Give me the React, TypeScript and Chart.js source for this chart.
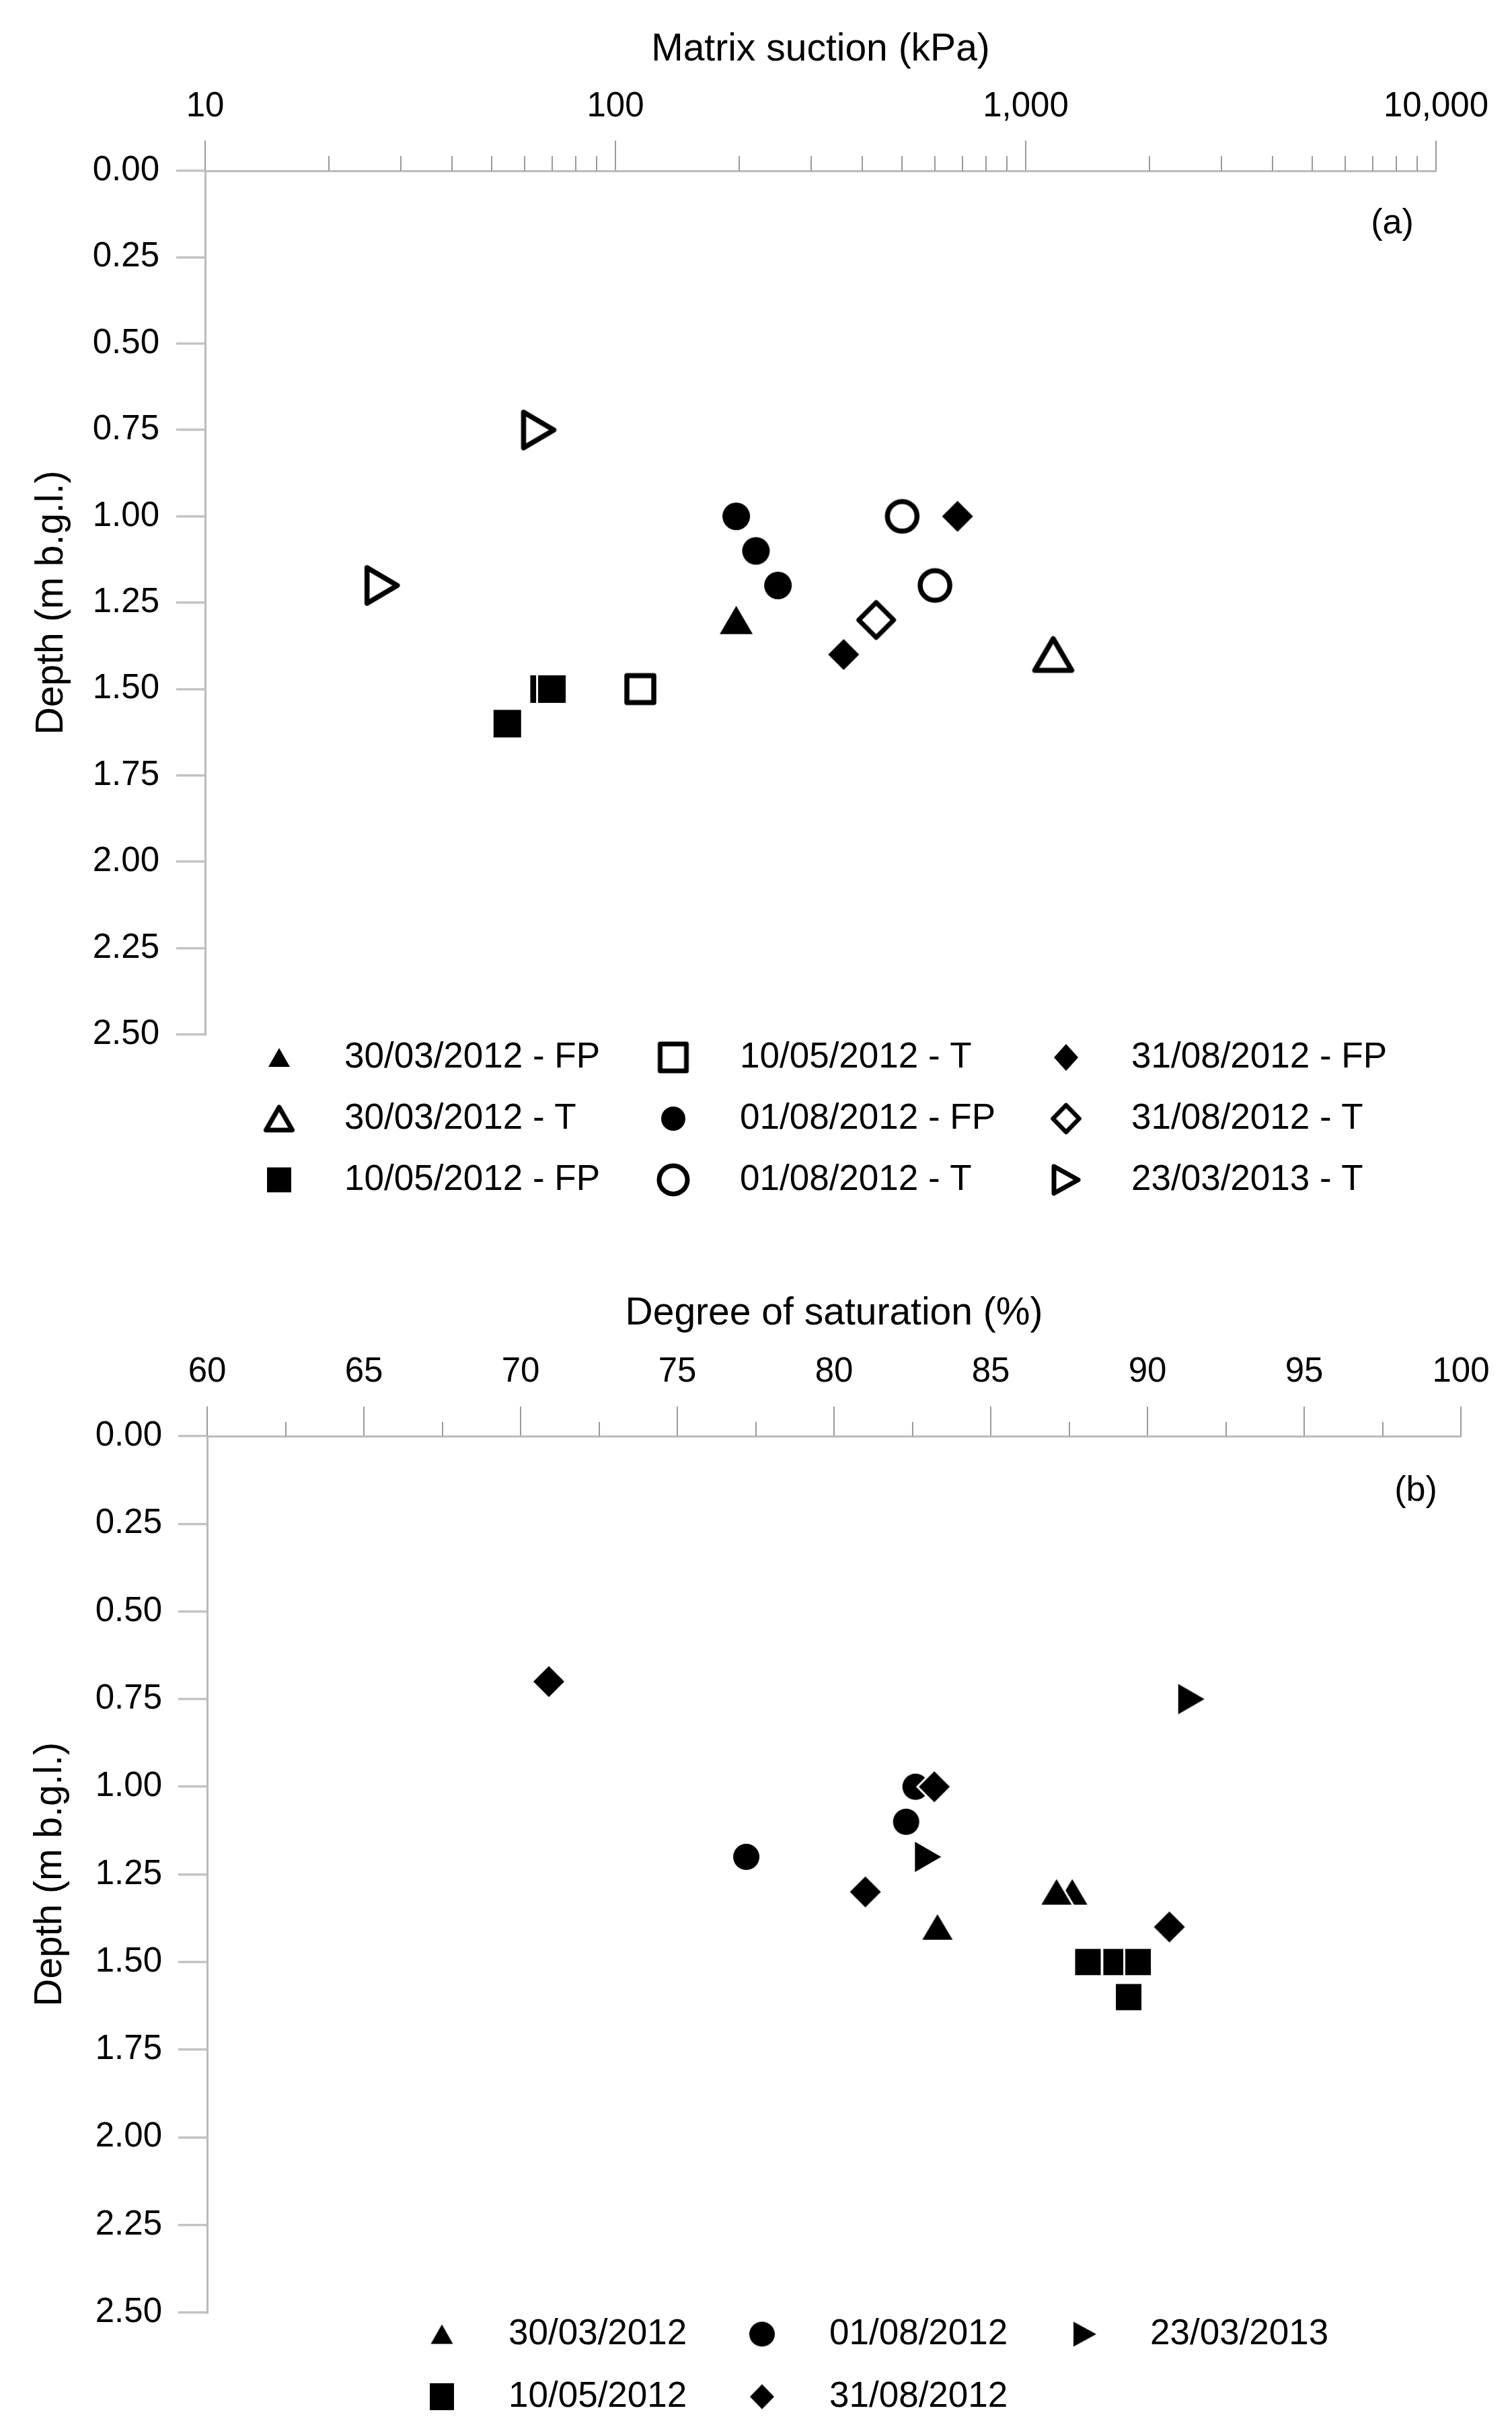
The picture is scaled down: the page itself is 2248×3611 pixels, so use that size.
import React, { useEffect, useRef } from 'react';
import { Chart, registerables } from 'chart.js';

Chart.register(...registerables);

const FONT = "'Liberation Sans', Arial, Helvetica, sans-serif";

// ---------------- Panel (a): matrix suction ----------------
const SUCTION_TICKS = [10, 100, 1000, 10000];
const SUCTION_TICK_LABELS = ['10', '100', '1,000', '10,000'];
const SUCTION_MINOR_TICKS = [
  20, 30, 40, 50, 60, 70, 80, 90,
  200, 300, 400, 500, 600, 700, 800, 900,
  2000, 3000, 4000, 5000, 6000, 7000, 8000, 9000,
];

const DEPTH_TICKS = [0, 0.25, 0.5, 0.75, 1, 1.25, 1.5, 1.75, 2, 2.25, 2.5];
const DEPTH_TICK_LABELS = ['0.00', '0.25', '0.50', '0.75', '1.00', '1.25', '1.50', '1.75', '2.00', '2.25', '2.50'];

// [suction (kPa), depth (m b.g.l.)]
const SUC_300312_FP: [number, number][] = [[197, 1.3]];
const SUC_300312_T: [number, number][] = [[1167, 1.4]];
const SUC_100512_FP: [number, number][] = [[67, 1.5], [70, 1.5], [54.5, 1.6]];
const SUC_100512_T: [number, number][] = [[115, 1.5]];
const SUC_010812_FP: [number, number][] = [[197, 1.0], [220, 1.1], [249, 1.2]];
const SUC_010812_T: [number, number][] = [[500, 1.0], [601, 1.2]];
const SUC_310812_FP: [number, number][] = [[682, 1.0], [360, 1.4]];
const SUC_310812_T: [number, number][] = [[432, 1.3]];
const SUC_230313_T: [number, number][] = [[65, 0.75], [27, 1.2]];

// ---------------- Panel (b): degree of saturation ----------------
const SAT_TICKS = [60, 65, 70, 75, 80, 85, 90, 95, 100];
const SAT_TICK_LABELS = ['60', '65', '70', '75', '80', '85', '90', '95', '100'];
const SAT_MINOR_TICKS = [62.5, 67.5, 72.5, 77.5, 82.5, 87.5, 92.5, 97.5];

// [degree of saturation (%), depth (m b.g.l.)]
const SAT_300312: [number, number][] = [[83.3, 1.4], [87.6, 1.3], [87.1, 1.3]];
const SAT_100512: [number, number][] = [[88.1, 1.5], [89.0, 1.5], [89.7, 1.5], [89.4, 1.6]];
const SAT_010812: [number, number][] = [[82.6, 1.0], [82.3, 1.1], [77.2, 1.2]];
const SAT_310812: [number, number][] = [[70.9, 0.7], [83.2, 1.0], [81.0, 1.3], [90.7, 1.4]];
const SAT_230313: [number, number][] = [[91.4, 0.75], [83.0, 1.2]];

// ---------------- marker drawing ----------------
type Shape = 'circle' | 'square' | 'triUp' | 'triRight' | 'diamond';

function makeMarker(shape: Shape, filled: boolean, w: number, h: number, lw = 7.5): HTMLCanvasElement {
  const pad = Math.ceil(lw) + 5;
  const c = document.createElement('canvas');
  c.width = Math.ceil(w) + pad * 2;
  c.height = Math.ceil(h) + pad * 2;
  const ctx = c.getContext('2d') as CanvasRenderingContext2D;
  const cx = c.width / 2;
  const cy = c.height / 2;
  ctx.beginPath();
  switch (shape) {
    case 'circle':
      ctx.ellipse(cx, cy, w / 2, h / 2, 0, 0, Math.PI * 2);
      break;
    case 'square':
      ctx.rect(cx - w / 2, cy - h / 2, w, h);
      break;
    case 'triUp':
      ctx.moveTo(cx, cy - h / 2);
      ctx.lineTo(cx + w / 2, cy + h / 2);
      ctx.lineTo(cx - w / 2, cy + h / 2);
      ctx.closePath();
      break;
    case 'triRight':
      ctx.moveTo(cx + w / 2, cy);
      ctx.lineTo(cx - w / 2, cy + h / 2);
      ctx.lineTo(cx - w / 2, cy - h / 2);
      ctx.closePath();
      break;
    case 'diamond':
      ctx.moveTo(cx, cy - h / 2);
      ctx.lineTo(cx + w / 2, cy);
      ctx.lineTo(cx, cy + h / 2);
      ctx.lineTo(cx - w / 2, cy);
      ctx.closePath();
      break;
  }
  if (filled) {
    ctx.lineJoin = 'miter';
    ctx.lineWidth = 6;
    ctx.strokeStyle = '#ffffff';
    ctx.stroke();
    ctx.fillStyle = '#000000';
    ctx.fill();
  } else {
    ctx.lineJoin = 'round';
    ctx.lineWidth = lw;
    ctx.strokeStyle = '#000000';
    ctx.stroke();
  }
  return c;
}

// ---------------- plugins (closures, no option proxies) ----------------
function minorTicksPlugin(values: number[], length: number) {
  return {
    id: 'minorTicks',
    afterDraw(chart: any) {
      const scale = chart.scales.x;
      const ctx = chart.ctx as CanvasRenderingContext2D;
      const top = chart.chartArea.top;
      ctx.save();
      ctx.strokeStyle = '#9a9a9a';
      ctx.lineWidth = 2;
      for (const v of values) {
        const px = Math.round(scale.getPixelForValue(v));
        ctx.beginPath();
        ctx.moveTo(px, top);
        ctx.lineTo(px, top - length);
        ctx.stroke();
      }
      ctx.restore();
    },
  };
}

interface LegendItem { label: string; marker: HTMLCanvasElement }

function gridLegendPlugin(items: LegendItem[], perColumn: number, markerX: number[], textX: number[], rowY: number[], fontSize: number) {
  return {
    id: 'gridLegend',
    afterDraw(chart: any) {
      const ctx = chart.ctx as CanvasRenderingContext2D;
      ctx.save();
      ctx.font = `${fontSize}px ${FONT}`;
      ctx.fillStyle = '#000000';
      ctx.textAlign = 'left';
      ctx.textBaseline = 'middle';
      items.forEach((it, i) => {
        const col = Math.floor(i / perColumn);
        const row = i % perColumn;
        const y = rowY[row];
        const mk = it.marker;
        ctx.drawImage(mk, markerX[col] - mk.width / 2, y - mk.height / 2);
        ctx.fillText(it.label, textX[col], y);
      });
      ctx.restore();
    },
  };
}

function panelLabelPlugin(text: string, dx: number, dy: number) {
  return {
    id: 'panelLabel',
    afterDraw(chart: any) {
      const ctx = chart.ctx as CanvasRenderingContext2D;
      const a = chart.chartArea;
      ctx.save();
      ctx.font = `52px ${FONT}`;
      ctx.fillStyle = '#000000';
      ctx.textAlign = 'center';
      ctx.textBaseline = 'middle';
      ctx.fillText(text, a.right + dx, a.top + dy);
      ctx.restore();
    },
  };
}

function depthAxis(titlePad: number, labelPad: number, width: number) {
  return {
    type: 'linear',
    position: 'left',
    reverse: true,
    min: 0,
    max: 2.5,
    afterBuildTicks: (s: any) => { s.ticks = DEPTH_TICKS.map((v) => ({ value: v })); },
    afterFit: (s: any) => { s.width = width; },
    ticks: {
      autoSkip: false,
      callback: (_v: any, i: number) => DEPTH_TICK_LABELS[i],
      font: { family: FONT, size: 51 },
      color: '#000000',
      padding: labelPad,
    },
    grid: { drawOnChartArea: false, drawTicks: true, tickLength: 43, color: '#c4c4c4', lineWidth: 3.5 },
    border: { display: true, color: '#bbbbbb', width: 3 },
    title: {
      display: true,
      text: 'Depth (m b.g.l.)',
      font: { family: FONT, size: 57 },
      color: '#000000',
      padding: { top: titlePad, bottom: 0 },
    },
  };
}

function ds(label: string, pts: [number, number][], marker: HTMLCanvasElement, order = 1) {
  return {
    label,
    data: pts.map(([x, y]) => ({ x, y })),
    pointStyle: marker,
    pointRadius: 25,
    pointHoverRadius: 25,
    order,
  };
}

// ---------------- chart configs ----------------
function buildSuctionConfig() {
  const M = {
    triF: makeMarker('triUp', true, 49, 42),
    triO: makeMarker('triUp', false, 55, 47),
    sqF: makeMarker('square', true, 41, 41),
    sqO: makeMarker('square', false, 40, 40),
    ciF: makeMarker('circle', true, 41, 41),
    ciO: makeMarker('circle', false, 44, 44),
    diF: makeMarker('diamond', true, 46, 46),
    diO: makeMarker('diamond', false, 52, 52, 7),
    trO: makeMarker('triRight', false, 45, 53),
  };
  const L = {
    triF: makeMarker('triUp', true, 32, 28),
    triO: makeMarker('triUp', false, 39, 34, 7),
    sqF: makeMarker('square', true, 36, 37),
    sqO: makeMarker('square', false, 39, 40, 7),
    ciF: makeMarker('circle', true, 36, 36),
    ciO: makeMarker('circle', false, 42, 42, 7),
    diF: makeMarker('diamond', true, 36, 40),
    diO: makeMarker('diamond', false, 39, 40, 6.5),
    trO: makeMarker('triRight', false, 36, 40, 7),
  };
  const series = [
    { label: '30/03/2012 - FP', pts: SUC_300312_FP, m: M.triF, l: L.triF },
    { label: '30/03/2012 - T', pts: SUC_300312_T, m: M.triO, l: L.triO },
    { label: '10/05/2012 - FP', pts: SUC_100512_FP, m: M.sqF, l: L.sqF },
    { label: '10/05/2012 - T', pts: SUC_100512_T, m: M.sqO, l: L.sqO },
    { label: '01/08/2012 - FP', pts: SUC_010812_FP, m: M.ciF, l: L.ciF },
    { label: '01/08/2012 - T', pts: SUC_010812_T, m: M.ciO, l: L.ciO },
    { label: '31/08/2012 - FP', pts: SUC_310812_FP, m: M.diF, l: L.diF },
    { label: '31/08/2012 - T', pts: SUC_310812_T, m: M.diO, l: L.diO },
    { label: '23/03/2013 - T', pts: SUC_230313_T, m: M.trO, l: L.trO },
  ];
  return {
    type: 'scatter',
    data: { datasets: series.map((s) => ds(s.label, s.pts, s.m)) },
    options: {
      responsive: false,
      animation: false,
      devicePixelRatio: 1,
      events: [],
      layout: { padding: { left: 0, top: 0, right: 113, bottom: 312 } },
      plugins: { legend: { display: false }, tooltip: { enabled: false } },
      scales: {
        x: {
          type: 'logarithmic',
          position: 'top',
          min: 10,
          max: 10000,
          afterBuildTicks: (s: any) => { s.ticks = SUCTION_TICKS.map((v) => ({ value: v })); },
          afterFit: (s: any) => { s.height = 254; },
          ticks: {
            autoSkip: false,
            maxRotation: 0,
            callback: (_v: any, i: number) => SUCTION_TICK_LABELS[i],
            font: { family: FONT, size: 51 },
            color: '#000000',
            padding: 19,
          },
          grid: { drawOnChartArea: false, drawTicks: true, tickLength: 45, color: '#9a9a9a', lineWidth: 2 },
          border: { display: true, color: '#bbbbbb', width: 3 },
          title: {
            display: true,
            text: 'Matrix suction (kPa)',
            font: { family: FONT, size: 57 },
            color: '#000000',
            padding: { top: 40, bottom: 0 },
          },
        },
        y: depthAxis(43, 25, 305),
      },
    },
    plugins: [
      minorTicksPlugin(SUCTION_MINOR_TICKS, 22),
      gridLegendPlugin(
        series.map((s) => ({ label: s.label, marker: s.l })),
        3,
        [415, 1001, 1585],
        [512, 1100, 1682],
        [1572, 1663, 1754],
        53,
      ),
      panelLabelPlugin('(a)', -65, 79),
    ],
  };
}

function buildSaturationConfig() {
  const M = {
    triF: makeMarker('triUp', true, 45, 38),
    sqF: makeMarker('square', true, 38, 39),
    ciF: makeMarker('circle', true, 39, 39),
    diF: makeMarker('diamond', true, 46, 46),
    trF: makeMarker('triRight', true, 39, 45),
  };
  const L = {
    triF: makeMarker('triUp', true, 33, 29),
    sqF: makeMarker('square', true, 36, 40),
    ciF: makeMarker('circle', true, 38, 37),
    diF: makeMarker('diamond', true, 36, 37),
    trF: makeMarker('triRight', true, 34, 37),
  };
  const series = [
    { label: '30/03/2012', pts: SAT_300312, m: M.triF, l: L.triF, order: 1 },
    { label: '10/05/2012', pts: SAT_100512, m: M.sqF, l: L.sqF, order: 1 },
    { label: '01/08/2012', pts: SAT_010812, m: M.ciF, l: L.ciF, order: 1 },
    { label: '31/08/2012', pts: SAT_310812, m: M.diF, l: L.diF, order: 0 },
    { label: '23/03/2013', pts: SAT_230313, m: M.trF, l: L.trF, order: 1 },
  ];
  return {
    type: 'scatter',
    data: { datasets: series.map((s) => ds(s.label, s.pts, s.m, s.order)) },
    options: {
      responsive: false,
      animation: false,
      devicePixelRatio: 1,
      events: [],
      layout: { padding: { left: 0, top: 0, right: 76, bottom: 173 } },
      plugins: { legend: { display: false }, tooltip: { enabled: false } },
      scales: {
        x: {
          type: 'linear',
          position: 'top',
          min: 60,
          max: 100,
          afterBuildTicks: (s: any) => { s.ticks = SAT_TICKS.map((v) => ({ value: v })); },
          afterFit: (s: any) => { s.height = 285; },
          ticks: {
            autoSkip: false,
            maxRotation: 0,
            callback: (_v: any, i: number) => SAT_TICK_LABELS[i],
            font: { family: FONT, size: 51 },
            color: '#000000',
            padding: 20,
          },
          grid: { drawOnChartArea: false, drawTicks: true, tickLength: 44, color: '#9a9a9a', lineWidth: 2 },
          border: { display: true, color: '#bbbbbb', width: 3 },
          title: {
            display: true,
            text: 'Degree of saturation (%)',
            font: { family: FONT, size: 57 },
            color: '#000000',
            padding: { top: 69, bottom: 0 },
          },
        },
        y: depthAxis(41, 24, 308),
      },
    },
    plugins: [
      minorTicksPlugin(SAT_MINOR_TICKS, 21),
      gridLegendPlugin(
        series.map((s) => ({ label: s.label, marker: s.l })),
        2,
        [657, 1133, 1613],
        [756, 1233, 1710],
        [1620, 1713],
        53,
      ),
      panelLabelPlugin('(b)', -67, 82),
    ],
  };
}

function ChartCanvas({ build, width, height, top }: { build: () => any; width: number; height: number; top: number }) {
  const ref = useRef<HTMLCanvasElement>(null);
  useEffect(() => {
    const chart = new Chart(ref.current as HTMLCanvasElement, build());
    return () => chart.destroy();
  }, [build]);
  return (
    <canvas
      ref={ref}
      width={width}
      height={height}
      style={{ position: 'absolute', left: 0, top, width, height, display: 'block' }}
    />
  );
}

export default function App() {
  return (
    <div style={{ position: 'absolute', left: 0, top: 0, width: 2248, height: 3611, overflow: 'hidden', background: '#ffffff' }}>
      <ChartCanvas build={buildSuctionConfig} width={2248} height={1850} top={0} />
      <ChartCanvas build={buildSaturationConfig} width={2248} height={1761} top={1850} />
    </div>
  );
}
